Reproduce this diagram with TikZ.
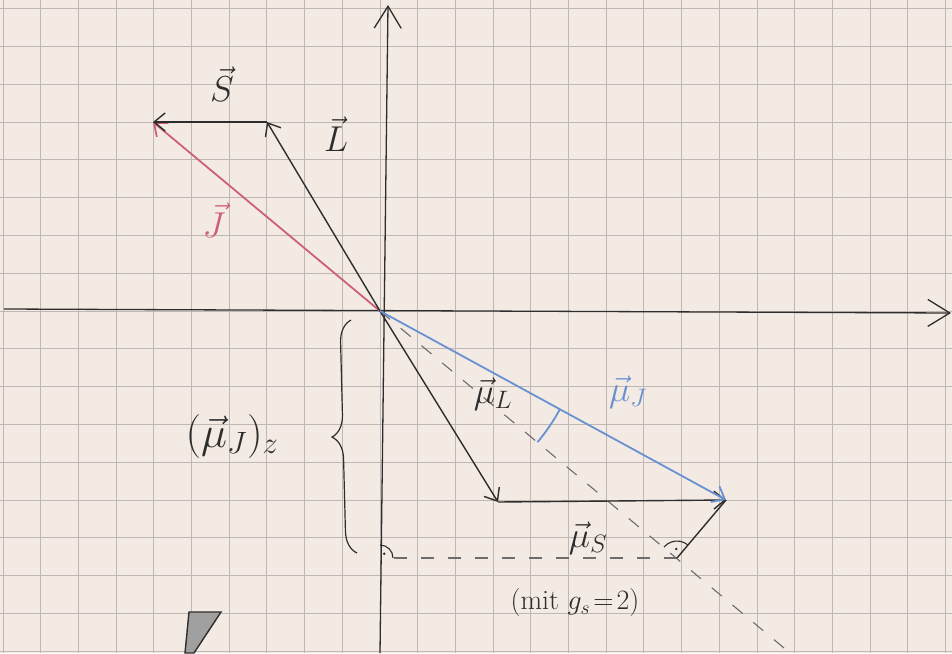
\RequirePackage{fix-cm}
\documentclass[tikz,border=0pt]{standalone}
\usetikzlibrary{arrows.meta,decorations.pathreplacing,calc}
\definecolor{paper}{RGB}{243,234,228}
\definecolor{gridc}{RGB}{190,183,180}
\definecolor{ink}{RGB}{45,45,45}
\definecolor{redv}{RGB}{205,95,118}
\definecolor{bluev}{RGB}{105,145,210}
\tikzset{
  vec/.style={ink,line width=1.4pt,-{Straight Barb[length=11pt,width=18pt,line width=1.4pt]}},
  axis/.style={ink,line width=1.3pt},
  axtip/.style={-{Straight Barb[length=22pt,width=27pt,line width=1.3pt]}},
  dashline/.style={ink!70,line width=1.1pt,dash pattern=on 13pt off 14pt},
  lab/.style={ink,font=\fontsize{36}{40}\selectfont,inner sep=0pt},
  rmark/.style={ink,line width=1.1pt}
}
\begin{document}
\begin{tikzpicture}[x=1pt,y=-1pt]
\useasboundingbox (0,0) rectangle (952,653);
\fill[paper] (0,0) rectangle (952,653);
% grid
\foreach \k in {-10,...,15} {\draw[gridc,line width=0.9pt] ({380+37.7*\k},0) -- ({380+37.7*\k},653);}
\foreach \k in {-8,...,9} {\draw[gridc,line width=0.9pt] (0,{311+37.8*\k}) -- (952,{311+37.8*\k});}
% coordinates
\coordinate (O) at (380,311);
\coordinate (xL) at (4,309);
\coordinate (xR) at (951,313);
\coordinate (yB) at (380,653);
\coordinate (yT) at (388,5);
\coordinate (Lt) at (267,122);
\coordinate (Jt) at (153,122);
\coordinate (muL) at (498,502);
\coordinate (mu) at (726,500);
\coordinate (F) at (677,558);
\coordinate (Fz) at (380,558);
\coordinate (Dend) at (790,653);
% axes
\draw[axis,axtip] (xL) -- (xR);
\draw[axis,axtip] (yB) -- (yT);
% dashed lines
\draw[dashline] (O) -- (Dend);
\draw[dashline] (F) -- (Fz);
% vectors
\draw[redv,line width=1.8pt,-{Straight Barb[length=11pt,width=18pt,line width=1.8pt]}] (O) -- (Jt);
\draw[vec] (O) -- (Lt);
\draw[vec] (Lt) -- (Jt);
\draw[vec] (O) -- (muL);
\draw[vec] (muL) -- (mu);
\draw[bluev,line width=1.8pt,-{Straight Barb[length=11pt,width=18pt,line width=1.8pt]}] (O) -- (mu);
\draw[ink,line width=1.4pt] (mu) -- (F);
% angle arc
\draw[bluev,line width=1.8pt] ($(O)+(28.6:205)$) arc[start angle=28.6,end angle=39.8,radius=205];
% right angle marks
\draw[rmark] ($(Fz)+(0:13)$) arc[start angle=0,end angle=-90,radius=13];
\fill[ink] ($(Fz)+(-45:6)$) circle (1.4);
\draw[rmark] ($(F)+(-49.8:17)$) arc[start angle=-49.8,end angle=-140.2,radius=17];
\fill[ink] ($(F)+(-95:9)$) circle (1.4);
% brace
\draw[ink,line width=1.2pt,decorate,decoration={brace,amplitude=22pt}] (357,553) -- (351,320);
% labels
\node[lab] (lS) at (222,84) {$\vec S$};
\node[lab] (lL) at (336,134) {$\vec L$};
\node[lab,text=redv] (lJ) at (214,220) {$\vec J$};
\node[lab] (lmuL) at (493,394) {$\vec\mu_L$};
\node[lab,text=bluev] (lmuJ) at (628,392) {$\vec\mu_J$};
\node[ink,font=\fontsize{44}{48}\selectfont,inner sep=0pt] (lmuJz) at (232,436) {$(\vec\mu_J)_z$};
\node[lab] (lmuS) at (588,538) {$\vec\mu_S$};
\node[ink,font=\fontsize{28}{32}\selectfont,inner sep=0pt] (lmit) at (575,603) {(mit $g_s\!=\!2$)};
% bottom fragment
\draw[ink,line width=1.4pt,fill=ink!45] (189,612) -- (221,612) -- (194,653) -- (185,653) -- cycle;
\end{tikzpicture}
\end{document}
